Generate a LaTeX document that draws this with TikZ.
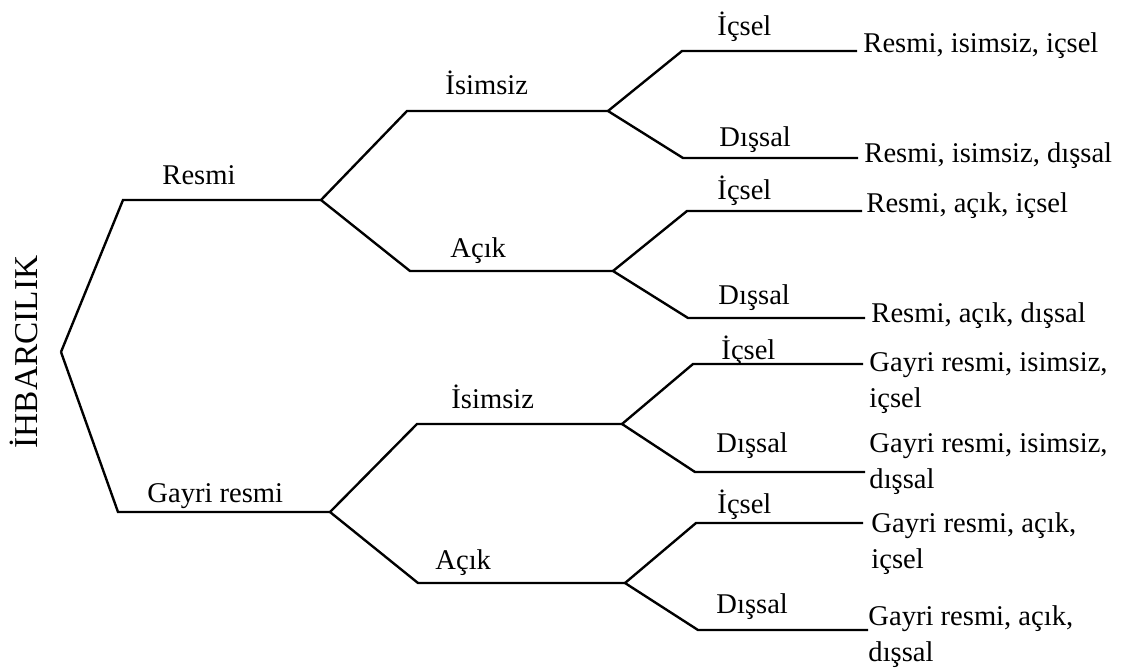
\documentclass[tikz,border=0pt]{standalone}
\usepackage{fontspec}
\setmainfont{Liberation Serif}
\usetikzlibrary{positioning}
\tikzset{
	branch/.style={anchor=base west, inner sep=0pt, font=\fontsize{12}{15}\selectfont},
	leaf/.style={anchor=base west, inner sep=0pt, align=left, font=\fontsize{12}{15}\selectfont},
	rootlabel/.style={anchor=base, rotate=90, inner sep=0pt, font=\fontsize{14}{17}\selectfont},
}

\begin{document}
\begin{tikzpicture}[x=0.42pt, y=-0.42pt]
	\useasboundingbox (0,0) rectangle (1131,669);
	
	% corners of the tree
	\coordinate (root) at (61,352);
	\coordinate (resmiA) at (123,200);
	\coordinate (resmiB) at (321,200);
	\coordinate (gayriA) at (118,512);
	\coordinate (gayriB) at (330,512);
	
	\coordinate (isimA) at (407,111);
	\coordinate (isimB) at (608,111);
	\coordinate (acikA) at (410,271);
	\coordinate (acikB) at (613,271);
	\coordinate (isimC) at (417,424);
	\coordinate (isimD) at (622,424);
	\coordinate (acikC) at (418,583);
	\coordinate (acikD) at (625,583);
	
	\coordinate (l1a) at (682,51);  \coordinate (l1b) at (857,51);
	\coordinate (l2a) at (683,158); \coordinate (l2b) at (858,158);
	\coordinate (l3a) at (687,211); \coordinate (l3b) at (862,211);
	\coordinate (l4a) at (688,318); \coordinate (l4b) at (865,318);
	\coordinate (l5a) at (693,364); \coordinate (l5b) at (863,364);
	\coordinate (l6a) at (695,472); \coordinate (l6b) at (865,472);
	\coordinate (l7a) at (696,523); \coordinate (l7b) at (863,523);
	\coordinate (l8a) at (698,630); \coordinate (l8b) at (868,630);
	
	% labels
	\node (ihbar) [rootlabel] at (37,352) {İHBARCILIK};
	\node (resmi) [branch] at (162,184) {Resmi};
	\node (gayri) [branch] at (147,502) {Gayri resmi};
	
	\node (isim1) [branch] at (445,94) {İsimsiz};
	\node (acik1) [branch] at (450,257) {Açık};
	\node (isim2) [branch] at (451,408) {İsimsiz};
	\node (acik2) [branch] at (435,569) {Açık};
	
	\node (ic1) [branch] at (717,35) {İçsel};
	\node (dis1) [branch] at (719,146) {Dışsal};
	\node (ic2) [branch] at (717,199) {İçsel};
	\node (dis2) [branch] at (718,304) {Dışsal};
	\node (ic3) [branch] at (721,359) {İçsel};
	\node (dis3) [branch] at (716,452) {Dışsal};
	\node (ic4) [branch] at (717,513) {İçsel};
	\node (dis4) [branch] at (716,613) {Dışsal};
	
	% two-line texts sit on the baseline of their last line
	\node (res1) [leaf] at (863,52) {Resmi, isimsiz, içsel};
	\node (res2) [leaf] at (864,162) {Resmi, isimsiz, dışsal};
	\node (res3) [leaf] at (866,212) {Resmi, açık, içsel};
	\node (res4) [leaf] at (871,322) {Resmi, açık, dışsal};
	\node (res5) [leaf] at (869,407) {Gayri resmi, isimsiz,\\içsel};
	\node (res6) [leaf] at (869,488) {Gayri resmi, isimsiz,\\dışsal};
	\node (res7) [leaf] at (871,568) {Gayri resmi, açık,\\içsel};
	\node (res8) [leaf] at (868,661) {Gayri resmi, açık,\\dışsal};
	
	\begin{scope}[line width=1pt, black, line join=miter]
		\draw (root) -- (resmiA) -- (resmiB);
		\draw (root) -- (gayriA) -- (gayriB);
		
		\draw (resmiB) -- (isimA) -- (isimB);
		\draw (resmiB) -- (acikA) -- (acikB);
		\draw (gayriB) -- (isimC) -- (isimD);
		\draw (gayriB) -- (acikC) -- (acikD);
		
		\draw (isimB) -- (l1a) -- (l1b);
		\draw (isimB) -- (l2a) -- (l2b);
		\draw (acikB) -- (l3a) -- (l3b);
		\draw (acikB) -- (l4a) -- (l4b);
		\draw (isimD) -- (l5a) -- (l5b);
		\draw (isimD) -- (l6a) -- (l6b);
		\draw (acikD) -- (l7a) -- (l7b);
		\draw (acikD) -- (l8a) -- (l8b);
	\end{scope}
\end{tikzpicture}
\end{document}
